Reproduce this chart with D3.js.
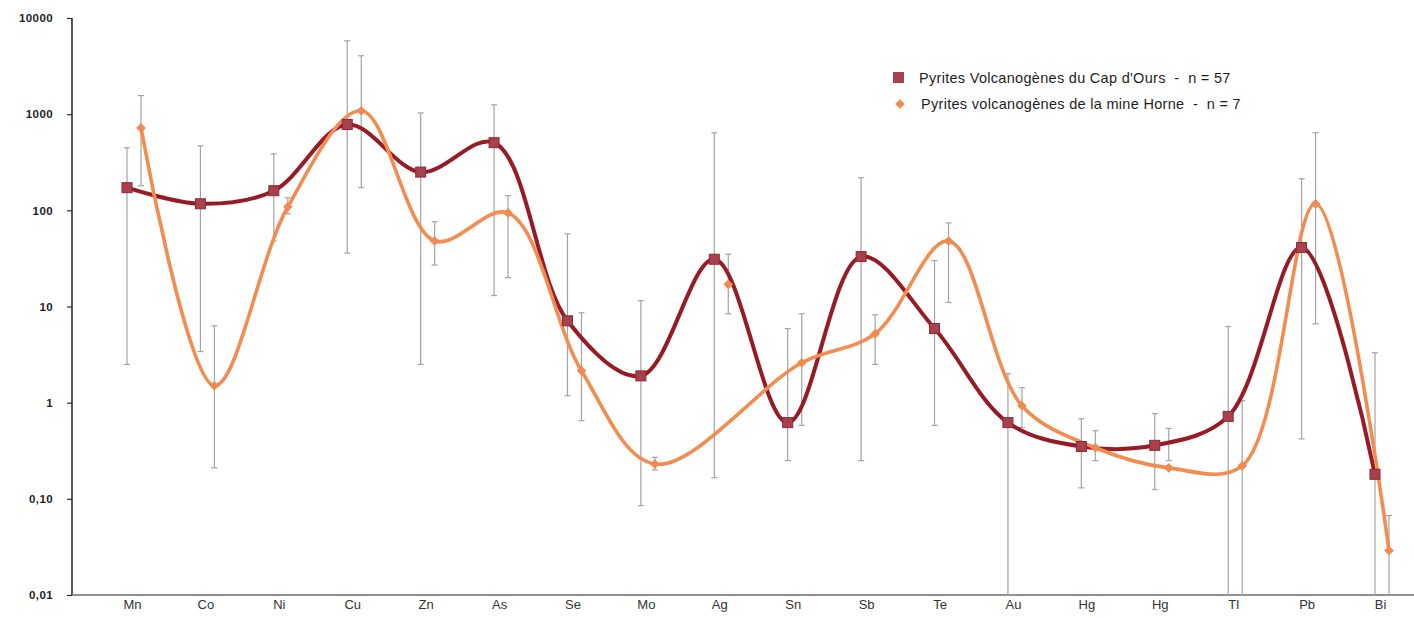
<!DOCTYPE html>
<html>
<head>
<meta charset="utf-8">
<script src="https://cdn.jsdelivr.net/npm/d3@7"></script>
<style>
  html, body { margin: 0; padding: 0; background: #ffffff; }
  svg { display: block; }
  .legend text { white-space: pre; }
</style>
</head>
<body>
<svg id="chart" width="1414" height="618"></svg>
<script>
// Trace elements in volcanogenic pyrites (log scale, ppm)
const categories = ["Mn","Co","Ni","Cu","Zn","As","Se","Mo","Ag","Sn","Sb","Te","Au","Hg","Hg","Tl","Pb","Bi"];

// Cap d'Ours pyrites (n = 57): mean, lower and upper bound
const capOursMean = [172, 117, 160, 780, 250, 505, 7.1, 1.9, 31, 0.62, 33, 5.9, 0.62, 0.35, 0.36, 0.72, 41, 0.18];
const capOursLow  = [2.5, 3.4, 48, 36, 2.5, 13, 1.18, 0.085, 0.166, 0.25, 0.25, 0.58, 0.01, 0.13, 0.125, 0.01, 0.42, 0.01];
const capOursHigh = [447, 469, 387, 5800, 1030, 1250, 57, 11.5, 640, 5.9, 218, 30, 2.0, 0.68, 0.77, 6.2, 213, 3.3];

// Horne mine pyrites (n = 7): mean, lower and upper bound
const horneMean = [720, 1.5, 109, 1085, 48, 94, 2.15, 0.23, 17, 2.6, 5.2, 48, 0.93, 0.34, 0.21, 0.22, 117, 0.029];
const horneLow  = [180, 0.21, 92, 172, 27, 20, 0.65, 0.2, 8.4, 0.58, 2.5, 11, 0.55, 0.25, 0.25, 0.01, 6.6, 0.01];
const horneHigh = [1560, 6.3, 135, 4050, 76, 142, 8.6, 0.27, 35, 8.4, 8.2, 74, 1.43, 0.51, 0.54, 1.05, 640, 0.067];
// Horne points left out of the smoothed trend line
const horneOffTrend = ["Ag"];

const yTickValues = [10000, 1000, 100, 10, 1, 0.1, 0.01];
const yTickLabels = ["10000", "1000", "100", "10", "1", "0,10", "0,01"];

const legendLabels = [
  "Pyrites Volcanogènes du Cap d'Ours  -  n = 57",
  "Pyrites volcanogènes de la mine Horne  -  n = 7"
];

const colors = {
  capLine: "#971b24",
  capMarker: "#a8404d",
  capMarkerStroke: "#8a2a36",
  horneLine: "#f28c50",
  horneMarker: "#ee8a52",
  error: "#a3a3a3",
  axis: "#2b2b2b",
  xAxis: "#6d6d6d",
  text: "#1e1e1e"
};

const svg = d3.select("#chart");
const W = 1414, H = 618;
const axisX = 72, plotTop = 18, plotBottom = 595;

const idx = d3.range(categories.length);
const x = d3.scalePoint().domain(idx).range([127, 1375]);
const horneShift = 14;   // Horne points sit just right of each category
const labelShift = 5;

const y = d3.scaleLog().domain([0.01, 10000]).range([plotBottom, plotTop]);

// Y axis
const yAxis = d3.axisLeft(y)
  .tickValues(yTickValues)
  .tickFormat((d, i) => yTickLabels[i])
  .tickSize(5)
  .tickPadding(14);

const gy = svg.append("g")
  .attr("transform", `translate(${axisX},0)`)
  .call(yAxis);
gy.select(".domain").attr("stroke", colors.axis).attr("stroke-width", 1.6)
  .attr("d", `M0,${plotTop}V${plotBottom}`);
gy.selectAll(".tick line").attr("stroke", colors.axis).attr("stroke-width", 1.2);
gy.selectAll(".tick text")
  .attr("fill", colors.text)
  .style("font-family", "'Liberation Sans', Arial, sans-serif")
  .style("font-size", "11.5px")
  .style("font-weight", "bold")
  .style("letter-spacing", "0.4px");

// X axis
const xAxis = d3.axisBottom(x)
  .tickFormat(i => categories[i])
  .tickSize(0)
  .tickPadding(5);
const gx = svg.append("g")
  .attr("transform", `translate(0,${plotBottom})`)
  .call(xAxis);
gx.select(".domain").attr("stroke", colors.xAxis).attr("stroke-width", 1.4)
  .attr("d", `M${axisX},0H${W}`);
gx.selectAll(".tick text")
  .attr("x", labelShift)
  .attr("fill", "#333")
  .style("font-family", "'Liberation Sans Narrow', 'Arial Narrow', 'Liberation Sans', sans-serif")
  .style("font-size", "13px");

// Series records
const capData = idx.map(i => ({ i, cat: categories[i], v: capOursMean[i], lo: capOursLow[i], hi: capOursHigh[i], px: x(i) }));
const horneData = idx.map(i => ({ i, cat: categories[i], v: horneMean[i], lo: horneLow[i], hi: horneHigh[i], px: x(i) + horneShift }));

// Error bars
function drawErrors(data) {
  const g = svg.append("g").attr("stroke", colors.error).attr("stroke-width", 1.2).attr("fill", "none");
  g.selectAll("line.bar").data(data).join("line")
    .attr("class", "bar")
    .attr("x1", d => d.px).attr("x2", d => d.px)
    .attr("y1", d => y(d.hi)).attr("y2", d => y(d.lo));
  g.selectAll("line.capHi").data(data).join("line")
    .attr("class", "capHi")
    .attr("x1", d => d.px - 3).attr("x2", d => d.px + 3)
    .attr("y1", d => y(d.hi)).attr("y2", d => y(d.hi));
  g.selectAll("line.capLo").data(data.filter(d => d.lo > 0.01)).join("line")
    .attr("class", "capLo")
    .attr("x1", d => d.px - 3).attr("x2", d => d.px + 3)
    .attr("y1", d => y(d.lo)).attr("y2", d => y(d.lo));
}
drawErrors(capData);
drawErrors(horneData);

// Smoothed trend lines
const line = d3.line().x(d => d.px).y(d => y(d.v)).curve(d3.curveCatmullRom.alpha(0.5));

svg.append("path")
  .datum(capData)
  .attr("d", line)
  .attr("fill", "none")
  .attr("stroke", colors.capLine)
  .attr("stroke-width", 4)
  .attr("stroke-linecap", "round");

svg.append("path")
  .datum(horneData.filter(d => !horneOffTrend.includes(d.cat)))
  .attr("d", line)
  .attr("fill", "none")
  .attr("stroke", colors.horneLine)
  .attr("stroke-width", 3.6)
  .attr("stroke-linecap", "round");

// Markers
const sq = 10;
svg.append("g").selectAll("rect").data(capData).join("rect")
  .attr("x", d => d.px - sq / 2).attr("y", d => y(d.v) - sq / 2)
  .attr("width", sq).attr("height", sq)
  .attr("fill", colors.capMarker)
  .attr("stroke", colors.capMarkerStroke).attr("stroke-width", 1);

const diamond = d3.symbol().type(d3.symbolDiamond2).size(60);
svg.append("g").selectAll("path").data(horneData).join("path")
  .attr("transform", d => `translate(${d.px},${y(d.v)})`)
  .attr("d", diamond)
  .attr("fill", colors.horneMarker);

// Legend
const legend = svg.append("g").attr("class", "legend")
  .style("font-family", "'Liberation Sans', Arial, sans-serif")
  .style("font-size", "14.5px")
  .style("letter-spacing", "0.3px")
  .attr("fill", colors.text);

legend.append("rect")
  .attr("x", 893).attr("y", 72).attr("width", 11).attr("height", 11)
  .attr("fill", colors.capMarker);
legend.append("text").attr("x", 919).attr("y", 83).text(legendLabels[0]);

legend.append("path")
  .attr("transform", "translate(900,104)")
  .attr("d", diamond)
  .attr("fill", colors.horneMarker);
legend.append("text").attr("x", 921).attr("y", 109).text(legendLabels[1]);
</script>
</body>
</html>
